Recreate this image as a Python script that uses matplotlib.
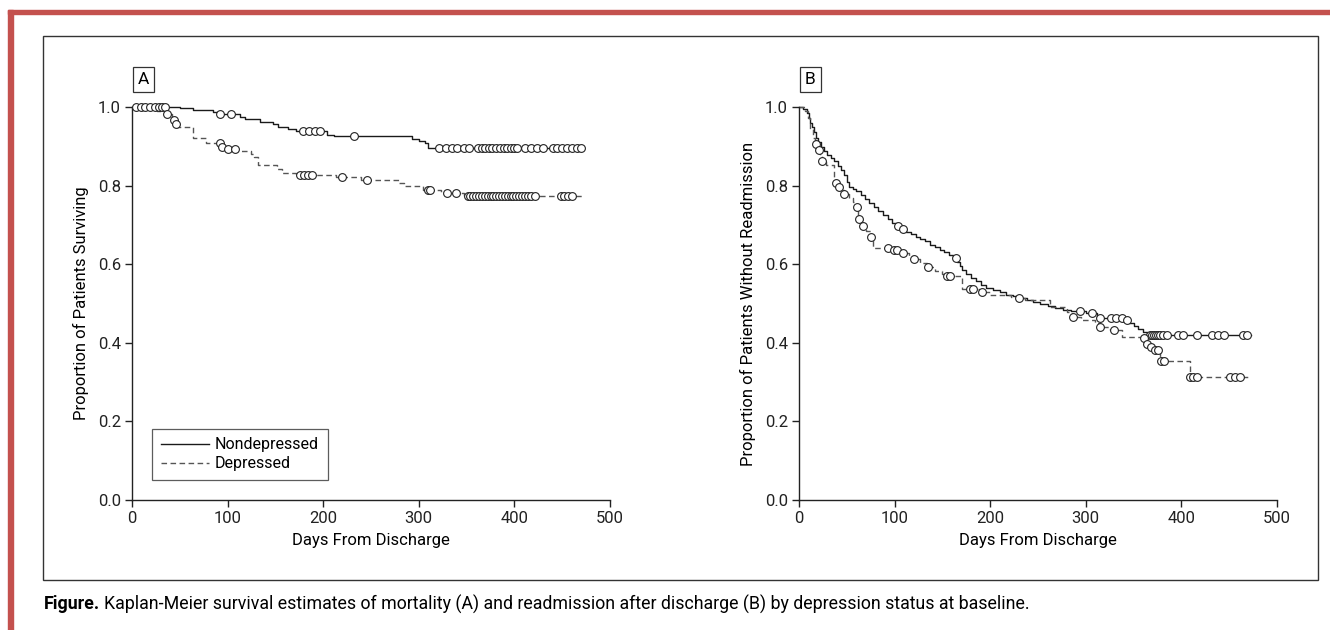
import numpy as np
import matplotlib
matplotlib.use('Agg')
import matplotlib.pyplot as plt
from matplotlib.lines import Line2D
from matplotlib.patches import Rectangle
from matplotlib.font_manager import fontManager

# narrow face if there is one, otherwise Roboto
names = set(f.name for f in fontManager.ttflist)
FONT = 'Liberation Sans Narrow' if 'Liberation Sans Narrow' in names else 'Roboto'
plt.rcParams['font.family'] = [FONT, 'DejaVu Sans']

# ---- Panel A: mortality ----
a_non_t = [0, 50, 64, 85, 90, 113, 118, 134, 147, 153, 163, 172, 204, 211, 293, 300, 307, 310]
a_non_s = [1.0, 0.997, 0.992, 0.987, 0.982, 0.975, 0.969, 0.963, 0.956, 0.950, 0.944, 0.939,
           0.930, 0.925, 0.919, 0.914, 0.908, 0.896]
a_non_end = 470
a_non_cens = [4, 9, 14, 19, 24, 28, 31, 34, 92, 104, 179, 185, 191, 197, 232,
              321, 328, 335, 340, 347, 352, 362, 366, 369, 373, 377, 381, 385, 389, 392,
              396, 400, 403, 411, 417, 424, 430, 440, 445, 450, 455, 460, 465, 470]

a_dep_t = [0, 26, 35, 42, 45, 47, 64, 77, 93, 98, 110, 124, 128, 132, 152, 157, 172, 213,
           240, 279, 284, 304, 323, 347]
a_dep_s = [1.0, 0.990, 0.982, 0.967, 0.957, 0.948, 0.922, 0.909, 0.899, 0.893, 0.887, 0.881,
           0.872, 0.852, 0.842, 0.833, 0.827, 0.823, 0.814, 0.806, 0.800, 0.789, 0.782, 0.774]
a_dep_end = 472
a_dep_cens = [37, 44, 46, 92, 94, 100, 108, 176, 180, 184, 188, 220, 246, 310, 312, 330, 339,
              351, 354, 357, 360, 363, 366, 369, 372, 375, 378, 381, 384, 387, 390, 393, 396,
              399, 402, 405, 408, 411, 414, 417, 422, 449, 452, 456, 460]

# ---- Panel B: readmission ----
b_non_t = [0, 4, 8, 10, 12, 14, 16, 18, 20, 23, 26, 29, 33, 37, 41, 44, 47, 50, 52, 56, 60,
           65, 69, 73, 78, 83, 88, 93, 97, 102, 107, 112, 117, 122, 127, 132, 137, 142, 147,
           152, 157, 161, 165, 168, 171, 175, 180, 185, 190, 196, 203, 210, 217, 224, 231,
           238, 245, 252, 260, 268, 276, 285, 300, 312, 340, 345, 350, 355, 360, 364, 366]
b_non_s = [1.0, 0.995, 0.985, 0.972, 0.960, 0.948, 0.937, 0.922, 0.910, 0.898, 0.888, 0.878,
           0.870, 0.862, 0.850, 0.840, 0.826, 0.810, 0.797, 0.792, 0.785, 0.775, 0.765, 0.755,
           0.745, 0.735, 0.726, 0.716, 0.706, 0.698, 0.689, 0.682, 0.676, 0.670, 0.664, 0.658,
           0.650, 0.643, 0.637, 0.630, 0.623, 0.615, 0.605, 0.595, 0.585, 0.575, 0.565, 0.556,
           0.548, 0.540, 0.534, 0.528, 0.522, 0.518, 0.513, 0.508, 0.503, 0.498, 0.493, 0.488,
           0.484, 0.481, 0.477, 0.464, 0.458, 0.450, 0.442, 0.435, 0.428, 0.424, 0.420]
b_non_end = 473
b_non_cens = [104, 109, 164, 294, 307, 315, 326, 332, 338, 343, 367, 369, 371, 373, 375, 378,
              381, 385, 396, 402, 416, 432, 438, 445, 464, 469]

b_dep_t = [0, 6, 9, 12, 15, 17, 20, 22, 24, 28, 37, 38, 41, 45, 47, 52, 56, 60, 62, 66, 70,
           75, 77, 98, 108, 115, 120, 127, 134, 142, 150, 154, 170, 188, 200, 222, 230, 236,
           263, 280, 286, 295, 310, 314, 325, 338, 360, 363, 368, 372, 378, 409]
b_dep_s = [1.0, 0.990, 0.972, 0.945, 0.920, 0.905, 0.890, 0.875, 0.863, 0.852, 0.820, 0.806,
           0.797, 0.788, 0.779, 0.768, 0.757, 0.746, 0.715, 0.698, 0.685, 0.670, 0.640, 0.636,
           0.628, 0.620, 0.613, 0.604, 0.592, 0.583, 0.574, 0.570, 0.537, 0.528, 0.522, 0.516,
           0.513, 0.509, 0.492, 0.479, 0.465, 0.458, 0.450, 0.439, 0.433, 0.414, 0.411, 0.397,
           0.390, 0.382, 0.354, 0.312]
b_dep_end = 472
b_dep_cens = [17.5, 20.5, 24.5, 38.5, 41.5, 47.5, 60.5, 63, 66.5, 75.5, 93, 99, 103, 109,
              120.5, 135, 154.5, 158, 179, 182, 191, 230.5, 286.5, 314.5, 330, 360.5, 363.5,
              368.5, 372.5, 375, 379, 382, 409.5, 412, 416, 451, 456, 461]

legend_labels = ['Nondepressed', 'Depressed']
y_ticks = [0.0, 0.2, 0.4, 0.6, 0.8, 1.0]
x_ticks = [0, 100, 200, 300, 400, 500]

SOLID = '#1a1a1a'
DASHED = '#555555'


def surv_at(t, s, times):
    idx = np.searchsorted(t, times, side='right') - 1
    return np.asarray(s)[idx]


def km(ax, t, s, end, cens, color, ls):
    tt = list(t) + [end]
    ss = list(s) + [s[-1]]
    ax.step(tt, ss, where='post', color=color, lw=1.0, ls=ls, clip_on=False,
            dashes=(4, 2.5) if ls == '--' else (None, None))
    ax.plot(cens, surv_at(t, s, cens), ls='none', marker='o', ms=5.6, mfc='white',
            mec='#222222', mew=0.8, clip_on=False, zorder=3)


fig = plt.figure(figsize=(13.3, 6.3), dpi=100)
W, H = 1330, 630

# outer red frame and inner box
fig.patches.append(Rectangle((8 / W, 0), 5 / W, 1 - 10 / H, transform=fig.transFigure,
                             color='#c4514e', zorder=0))
fig.patches.append(Rectangle((8 / W, 1 - 14 / H), 1 - 8 / W, 4 / H, transform=fig.transFigure,
                             color='#c4514e', zorder=0))
fig.patches.append(Rectangle((43 / W, 1 - 580 / H), 1275 / W, 544 / H, transform=fig.transFigure,
                             fill=False, ec='#333333', lw=1.0, zorder=0))

ylabels = ['Proportion of Patients Surviving', 'Proportion of Patients Without Readmission']
lefts = [132, 799]
panels = ['A', 'B']
curves = [
    [(a_non_t, a_non_s, a_non_end, a_non_cens, SOLID, '-'),
     (a_dep_t, a_dep_s, a_dep_end, a_dep_cens, DASHED, '--')],
    [(b_non_t, b_non_s, b_non_end, b_non_cens, SOLID, '-'),
     (b_dep_t, b_dep_s, b_dep_end, b_dep_cens, DASHED, '--')],
]

for i in range(2):
    ax = fig.add_axes([lefts[i] / W, 1 - 500 / H, 478 / W, 393 / H])
    for c in curves[i]:
        km(ax, *c)
    ax.set_xlim(0, 500)
    ax.set_ylim(0, 1.0)
    ax.set_xticks(x_ticks)
    ax.set_yticks(y_ticks)
    ax.set_yticklabels(['%.1f' % v for v in y_ticks])
    for sp in ['top', 'right']:
        ax.spines[sp].set_visible(False)
    for sp in ['left', 'bottom']:
        ax.spines[sp].set_color('#222222')
        ax.spines[sp].set_linewidth(1.0)
    ax.tick_params(direction='out', length=5, width=1, colors='#222222',
                   labelsize=12, pad=3)
    ax.set_xlabel('Days From Discharge', fontsize=12, labelpad=5)
    ax.set_ylabel(ylabels[i], fontsize=12, labelpad=6)
    ax.text(0.012, 1.07, panels[i], transform=ax.transAxes, fontsize=12.5,
            ha='left', va='center',
            bbox=dict(boxstyle='square,pad=0.3', fc='white', ec='#333333', lw=0.9))
    if i == 0:
        handles = [Line2D([], [], color=SOLID, lw=1.0),
                   Line2D([], [], color=DASHED, lw=1.0, dashes=(4, 2.5))]
        leg = ax.legend(handles, legend_labels, loc='lower left',
                        bbox_to_anchor=(0.025, 0.03), fontsize=11.5, frameon=True,
                        fancybox=False, edgecolor='#333333', handlelength=3.0,
                        handletextpad=0.4, borderpad=0.55, labelspacing=0.25)
        leg.get_frame().set_linewidth(0.9)

# caption: bold lead-in followed by the regular sentence
cap_y = 1 - 604 / H
lead = fig.text(44 / W, cap_y, 'Figure.', fontsize=12.8, fontweight='bold',
                va='center', ha='left')
renderer = fig.canvas.get_renderer()
bb = lead.get_window_extent(renderer)
fig.text((bb.x1 + 4) / W, cap_y,
         'Kaplan-Meier survival estimates of mortality (A) and readmission '
         'after discharge (B) by depression status at baseline.',
         fontsize=12.8, va='center', ha='left')

fig.savefig('out.png', dpi=100)
